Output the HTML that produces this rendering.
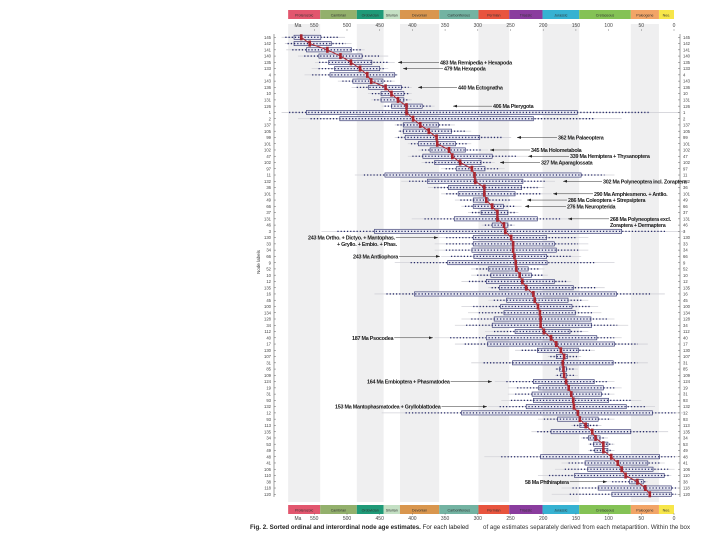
<!DOCTYPE html>
<html><head><meta charset="utf-8"><style>
body{margin:0;background:#fff;width:720px;height:540px;overflow:hidden;font-family:"Liberation Sans",sans-serif}
</style></head><body>
<svg id="chart" width="720" height="540" viewBox="0 0 720 540" xmlns="http://www.w3.org/2000/svg"></svg>
<script>
const med=[570,557,530,510,494,480,469,463,441,432,422,409,409,399,388,375,363,362,344,339,327,309,305,304,290,290,287,278,270,270,260,258,249,246,246,244,242,241,236,232,226,215,213,208,205,204,204,199,188,180,173,168,170,169,168,165,161,157,154,153,147,144,135,125,120,108,108,96,86,80,74,56,44,37];
const q1=[581,581,562,543,528,519,526,491,467,448,448,432,562,511,414,414,411,391,373,384,366,333,442,377,345,330,307,307,295,336,278,458,307,307,309,306,346,284,280,287,267,397,256,265,260,275,278,243,287,285,209,180,247,175,173,215,207,217,215,226,325,178,144,188,131,123,121,204,136,132,152,68,116,95];
const q3=[540,524,493,477,462,450,427,445,417,413,413,385,148,215,360,340,297,334,319,278,295,289,142,231,233,243,284,261,254,209,254,80,195,183,180,195,194,223,218,183,154,88,162,156,151,127,126,159,118,91,146,163,93,164,164,122,108,111,100,73,33,116,131,66,113,101,101,22,40,32,15,47,4,4];
const wLo=[600,595,593,575,549,554,565,514,493,468,463,447,600,575,427,422,427,407,391,407,386,356,488,417,376,356,335,325,315,401,294,539,366,366,366,356,427,310,310,325,284,458,284,325,315,325,335,289,366,335,243,193,310,182,182,274,254,254,264,284,447,208,157,218,142,131,131,290,172,182,208,106,172,187];
const wHi=[503,493,473,437,427,437,422,427,401,401,401,366,-11,80,335,310,249,310,284,223,274,259,91,182,198,187,233,233,238,157,243,-17,131,131,131,142,91,198,193,157,106,14,131,116,111,91,70,131,80,40,121,142,40,147,147,91,80,91,50,29,-17,91,111,9,101,91,91,-11,14,-1,4,40,-6,-6];
const leftLabels=[145,142,141,140,135,133,4,143,136,10,131,126,1,2,137,105,99,101,102,47,102,97,11,132,36,101,49,66,37,131,46,3,130,33,34,66,9,52,10,12,135,16,45,100,134,128,34,112,40,17,130,107,31,85,109,124,19,31,93,132,12,93,113,135,34,53,49,48,41,106,110,38,118,120];
const periods=["Proterozoic","Cambrian","Ordovician","Silurian","Devonian","Carboniferous","Permian","Triassic","Jurassic","Cretaceous","Paleogene","Neo."];
const periodStart=[590,541,485,444,419,359,299,252,201,145,66,23];
const periodEnd=[541,485,444,419,359,299,252,201,145,66,23,0];
const periodColors=["#e2566e","#93b06c","#1f9a78","#c4e0c4","#d9964e","#73b3a2","#e8543e","#8a3c9e","#36b2d2","#84c255","#f2a466","#f7e64a"];
const tickVals=[550,500,450,400,350,300,250,200,150,100,50,0];
const annRow=[4,5,8,11,16,18,19,20,23,25,26,27,29,48,55,59,71,32,35];
const annMa=[483,479,440,406,362,345,339,327,302,290,286,276,268,187,164,153,58,243,243];
const annText=["483 Ma Remipedia + Hexapoda","479 Ma Hexapoda","440 Ma Ectognatha","406 Ma Pterygota","362 Ma Palaeoptera","345 Ma Holometabola","339 Ma Hemiptera + Thysanoptera","327 Ma Aparaglossata","302 Ma Polyneoptera incl. Zoraptera","290 Ma Amphiesmeno. + Antlio.","286 Ma Coleoptera + Strepsiptera","276 Ma Neuropterida","268 Ma Polyneoptera excl.","187 Ma Psocodea","164 Ma Embioptera + Phasmatodea","153 Ma Mantophasmatodea + Grylloblattodea","58 Ma Phthiraptera","243 Ma Ortho. + Dictyo. + Mantophas.","243 Ma Antliophora"];
const annArrowX=[398,403,418,453,517,490,528,500,563,553,527,525,568,433,492,487,607,438,440];
const annTextX=[440,444,458,493,558,531,570,541,603,594,568,567,610,352,367,335,525,308,353];
const annSide=["r","r","r","r","r","r","r","r","r","r","r","r","r","l","l","l","l","l","l"];

const NS="http://www.w3.org/2000/svg";
const svg=document.getElementById('chart');
const X=ma=>674-ma*0.654;
const Y=i=>37.3+i*6.26;
function mk(tag,attrs,parent){const e=document.createElementNS(NS,tag);for(const k in attrs)e.setAttribute(k,attrs[k]);(parent||svg).appendChild(e);return e;}

periods.forEach((p,i)=>{
  if(i%2===0){const r=mk('rect',{x:X(periodStart[i]),y:24,width:X(periodEnd[i])-X(periodStart[i]),height:478,fill:'#efeff0'});
  
  }
});
[10,505].forEach(by=>{
  periods.forEach((p,i)=>{
    const r=mk('rect',{x:X(periodStart[i]),y:by,width:X(periodEnd[i])-X(periodStart[i]),height:9,fill:periodColors[i]});
    
    
    const t=mk('text',{x:(X(periodStart[i])+X(periodEnd[i]))/2,y:by+6.5,'font-size':3.6,'text-anchor':'middle',fill:'#333'});
    t.textContent=p;
    
    
  });
  const ty=by===10?27:520;
  const tt=mk('text',{x:X(575),y:ty,'font-size':5,fill:'#444','text-anchor':'middle'});tt.textContent='Ma';
  
  
  tickVals.forEach(v=>{
    const t=mk('text',{x:X(v),y:ty,'font-size':5,fill:'#444','text-anchor':'middle'});
    t.textContent=v;
    
    
    mk('line',{x1:X(v),x2:X(v),y1:by===10?29:513,y2:by===10?31:515,stroke:'#666','stroke-width':0.4});
  });
});
mk('line',{x1:274,x2:274,y1:34,y2:497,stroke:'#444','stroke-width':0.5});
mk('line',{x1:680,x2:680,y1:34,y2:497,stroke:'#444','stroke-width':0.5});
const yt=mk('text',{x:0,y:0,'font-size':4.5,fill:'#333','text-anchor':'middle',transform:'translate(260,262) rotate(-90)'});
yt.textContent='Node labels';



med.forEach((m,i)=>{
  const y=Y(i);
  const g=mk('g',{});
  
  
  mk('line',{x1:X(wLo[i]),x2:X(wHi[i]),y1:y,y2:y,stroke:'#d2d2d8','stroke-width':0.8},g);
  const dLo=q1[i]+(wLo[i]-q1[i])*0.7, dHi=q3[i]-(q3[i]-wHi[i])*0.7;
  mk('rect',{x:X(q1[i]),y:y-2.1,width:X(q3[i])-X(q1[i]),height:4.2,fill:'#e6e7f0',stroke:'#2c2f6a','stroke-width':0.6},g);
  mk('line',{x1:X(dLo),x2:X(dHi),y1:y,y2:y,stroke:'#262a68','stroke-width':1.3,'stroke-dasharray':'1.2 2'},g);
  const mr=mk('rect',{x:X(m)-1.3,y:y-3,width:2.6,height:6,fill:'#a5242e'},g);
  
  
  const l=mk('text',{x:271,y:y+1.6,'font-size':4.2,fill:'#444','text-anchor':'end'});
  l.textContent=leftLabels[i];
  
  
  const r=mk('text',{x:683,y:y+1.6,'font-size':4.2,fill:'#444'});
  r.textContent=leftLabels[i];
  
  
  mk('line',{x1:274,x2:276,y1:y,y2:y,stroke:'#444','stroke-width':0.4});
  mk('line',{x1:678,x2:680,y1:y,y2:y,stroke:'#444','stroke-width':0.4});
});
const pl=mk('polyline',{points:med.map((m,i)=>X(m)+','+Y(i)).join(' '),fill:'none',stroke:'#b02a34','stroke-width':1});



annRow.forEach((r,i)=>{
  const y=Y(r);
  const g=mk('g',{});
  
  
  const ax=annArrowX[i];
  const t=mk('text',{x:annTextX[i],y:y+2,'font-size':5.4,'font-weight':'bold',fill:'#1a1a1a','letter-spacing':'-0.25'},g);
  t.textContent=annText[i];
  if(annSide[i]==='r'){
    mk('line',{x1:ax,x2:annTextX[i]-1,y1:y,y2:y,stroke:'#333','stroke-width':0.5},g);
    mk('polygon',{points:`${ax},${y} ${ax+4},${y-1.4} ${ax+4},${y+1.4}`,fill:'#222'},g);
  } else {
    const tw=t.getComputedTextLength?t.getComputedTextLength():60;
    mk('line',{x1:annTextX[i]+tw+1,x2:ax,y1:y,y2:y,stroke:'#333','stroke-width':0.5},g);
    mk('polygon',{points:`${ax},${y} ${ax-4},${y-1.4} ${ax-4},${y+1.4}`,fill:'#222'},g);
  }
});
const s1=mk('text',{x:610,y:Y(30)+2,'font-size':5.4,'font-weight':'bold',fill:'#1a1a1a','letter-spacing':'-0.25'});
s1.textContent='Zoraptera + Dermaptera';


const s2=mk('text',{x:337,y:Y(33)+2,'font-size':5.4,'font-weight':'bold',fill:'#1a1a1a','letter-spacing':'-0.25'});
s2.textContent='+ Gryllo. + Embio. + Phas.';



const c1=mk('text',{x:250,y:529,'font-size':6.2,fill:'#222'});


c1.innerHTML='<tspan font-weight="bold">Fig. 2. Sorted ordinal and interordinal node age estimates.</tspan> For each labeled';
const c2=mk('text',{x:483,y:529,'font-size':6.2,fill:'#333'});
c2.textContent='of age estimates separately derived from each metapartition. Within the box';


</script>
</body></html>
